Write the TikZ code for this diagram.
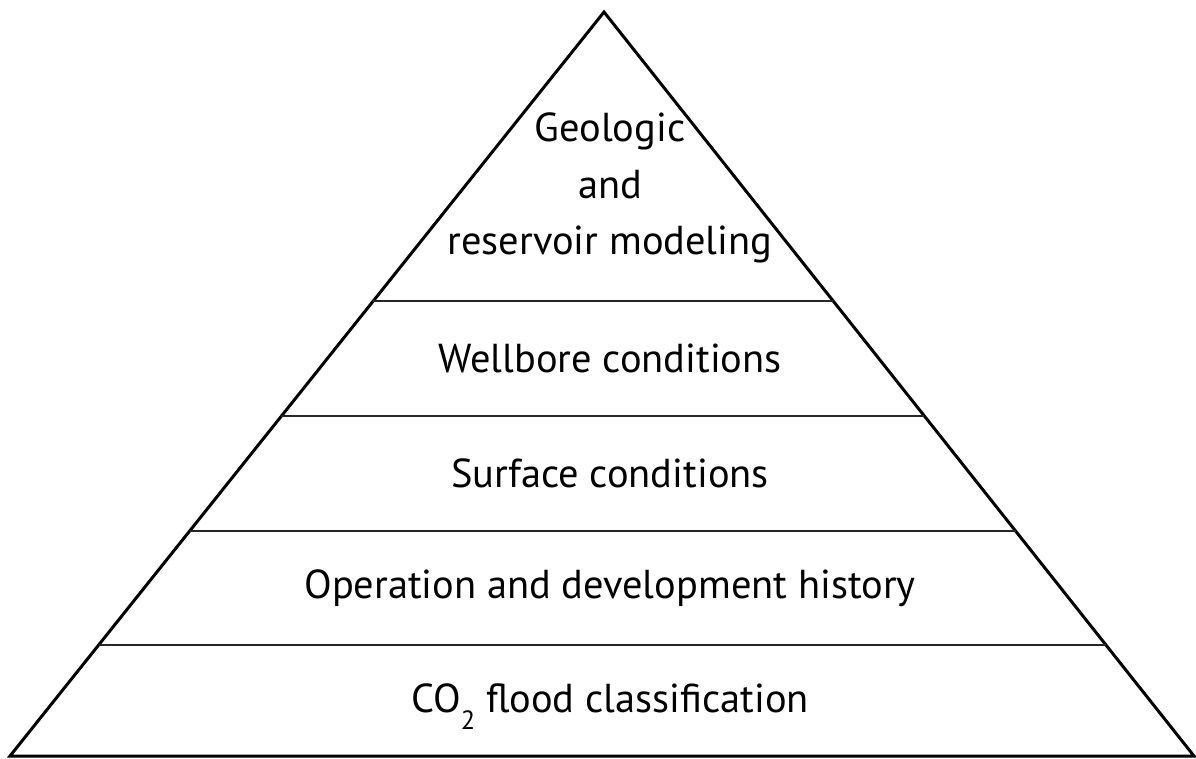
\documentclass[tikz,border=0pt]{standalone}
\usepackage{fontspec}
\setmainfont{PT Sans}
\usetikzlibrary{calc}
\usetikzlibrary{positioning}

\tikzset{
  layer/.style={font=\fontsize{23}{32}\selectfont, align=center, inner sep=0pt},
  outline/.style={line width=1.7pt, line join=miter},
  divider/.style={line width=1.1pt, black!85},
}
\newcommand{\lowtwo}{\raisebox{-10pt}{\fontsize{15}{15}\selectfont 2}}

\begin{document}
\begin{tikzpicture}[x=0.02cm, y=-0.02cm]
    \useasboundingbox (0,0) rectangle (1196,758);
    \coordinate (apex) at (604,12);
    \coordinate (botleft) at (10,756);
    \coordinate (botright) at (1194,756);

    % layer boundaries along the two sides
    \foreach \name/\t in {one/0.3884, two/0.5430, three/0.6976, four/0.8508} {
      \coordinate (\name-l) at ($(apex)!\t!(botleft)$);
      \coordinate (\name-r) at ($(apex)!\t!(botright)$);
    }

    \draw[outline] (apex) -- (botleft) -- (botright) -- cycle;
    \draw[divider] (one-l) -- (one-r);
    \draw[divider] (two-l) -- (two-r);
    \draw[divider] (three-l) -- (three-r);
    \draw[divider] (four-l) -- (four-r);

    \node[layer] (geo) at (610,188) {Geologic\\and\\reservoir modeling};
    \node[layer] (well) at (610,358) {Wellbore conditions};
    \node[layer] (surf) at (610,473) {Surface conditions};
    \node[layer] (oper) at (610,588) {Operation and development history};
    \node[layer, anchor=base] (flood) at (610,712) {CO\lowtwo\ flood classification};
\end{tikzpicture}
\end{document}
